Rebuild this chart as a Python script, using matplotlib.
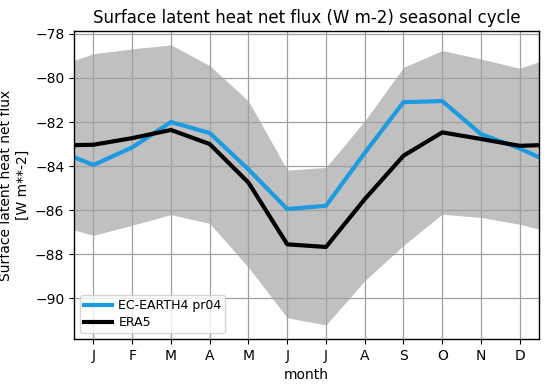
import matplotlib
matplotlib.use("Agg")
import matplotlib.pyplot as plt

# x positions: left edge, mid-month J..D, right edge
x = [0, 0.5, 1.5, 2.5, 3.5, 4.5, 5.5, 6.5, 7.5, 8.5, 9.5, 10.5, 11.5, 12]
month_pos = [0.5, 1.5, 2.5, 3.5, 4.5, 5.5, 6.5, 7.5, 8.5, 9.5, 10.5, 11.5]
month_labels = ['J', 'F', 'M', 'A', 'M', 'J', 'J', 'A', 'S', 'O', 'N', 'D']

ec_earth = [-83.6, -83.95, -83.15, -82.0, -82.5, -84.15, -85.95, -85.8,
            -83.4, -81.1, -81.05, -82.55, -83.2, -83.6]
era5 = [-83.05, -83.03, -82.73, -82.36, -83.0, -84.75, -87.55, -87.67,
        -85.5, -83.53, -82.47, -82.77, -83.08, -83.05]
spread_hi = [-79.2, -78.9, -78.68, -78.5, -79.44, -81.05, -84.18, -84.06,
             -81.95, -79.52, -78.76, -79.14, -79.56, -79.26]
spread_lo = [-86.9, -87.14, -86.68, -86.2, -86.6, -88.6, -90.88, -91.21,
             -89.2, -87.6, -86.18, -86.33, -86.64, -86.86]

fig, ax = plt.subplots(figsize=(5.49, 3.91), dpi=100)

ax.fill_between(x, spread_lo, spread_hi, color='#c0c0c0', linewidth=0)
ax.plot(x, ec_earth, color='#1c9be0', lw=3, label='EC-EARTH4 pr04')
ax.plot(x, era5, color='black', lw=3, label='ERA5')

ax.set_xlim(0, 12)
ax.set_xticks(month_pos)
ax.set_xticklabels(month_labels)
ax.set_yticks([-90, -88, -86, -84, -82, -80, -78])
ax.grid(True, color='#a0a0a0', lw=0.9)
for sp in ax.spines.values():
    sp.set_linewidth(1.0)

ax.set_xlabel('month')
ax.set_ylabel('Surface latent heat net flux\n[W m**-2]')
ax.set_title('Surface latent heat net flux (W m-2) seasonal cycle')
ax.legend(loc='lower left', fontsize=9, labelspacing=0.3, borderpad=0.3,
          handlelength=2.2, handletextpad=0.55)

plt.subplots_adjust(left=0.135, right=0.982, top=0.921, bottom=0.133)
plt.savefig('out.png')
